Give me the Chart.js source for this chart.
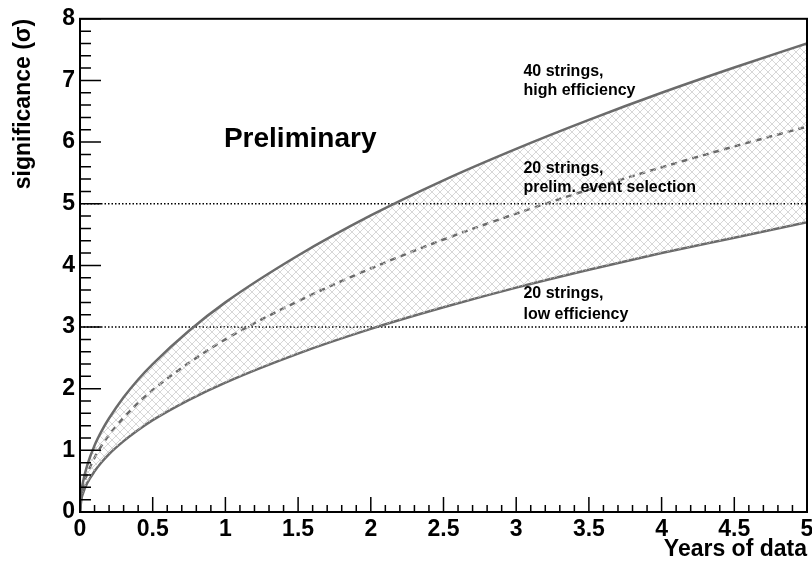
<!DOCTYPE html>
<html>
<head>
<meta charset="utf-8">
<script src="https://cdn.jsdelivr.net/npm/chart.js@4"></script>
<style>
  html, body { margin: 0; padding: 0; background: #fff; }
</style>
</head>
<body>
<canvas id="grafica" width="812" height="563"></canvas>
<script>
// values
const years  = [0, 0.01, 0.02, 0.05, 0.1, 0.15, 0.2, 0.3, 0.4, 0.5, 0.75, 1, 1.5, 2, 2.5, 3, 3.5, 4, 4.5, 5];
const high   = [0, 0.34, 0.48, 0.76, 1.08, 1.32, 1.52, 1.86, 2.15, 2.40, 2.94, 3.40, 4.16, 4.81, 5.38, 5.89, 6.36, 6.80, 7.21, 7.60];
const prelim = [0, 0.28, 0.40, 0.62, 0.88, 1.08, 1.25, 1.53, 1.77, 1.98, 2.42, 2.80, 3.42, 3.95, 4.42, 4.84, 5.23, 5.59, 5.93, 6.25];
const low    = [0, 0.21, 0.30, 0.47, 0.66, 0.81, 0.94, 1.15, 1.33, 1.49, 1.82, 2.10, 2.57, 2.97, 3.32, 3.64, 3.93, 4.20, 4.45, 4.70];
const thresholds = [3, 5];
const xRange = [0, 5];

const notas = [
  { text: 'Preliminary', x: 0.99, y: 6.04, size: 28 },
  { text: '40 strings,', x: 3.05, y: 7.14, size: 16 },
  { text: 'high efficiency', x: 3.05, y: 6.83, size: 16 },
  { text: '20 strings,', x: 3.05, y: 5.57, size: 16 },
  { text: 'prelim. event selection', x: 3.05, y: 5.27, size: 16 },
  { text: '20 strings,', x: 3.05, y: 3.54, size: 16 },
  { text: 'low efficiency', x: 3.05, y: 3.20, size: 16 }
];

const FONT = '"Liberation Sans", Arial, Helvetica, sans-serif';
const GRIS = '#6b6b6b';

function rayado() {
  const c = document.createElement('canvas');
  c.width = 8; c.height = 8;
  const g = c.getContext('2d');
  g.strokeStyle = '#c6c6c6';
  g.lineWidth = 0.7;
  g.beginPath();
  g.moveTo(0, 0); g.lineTo(8, 8);
  g.moveTo(8, 0); g.lineTo(0, 8);
  g.stroke();
  return g.createPattern(c, 'repeat');
}

const pts = arr => years.map((x, i) => ({ x, y: arr[i] }));

const marco = {
  id: 'marco',
  afterDatasetsDraw(chart) {
    const { ctx, chartArea: a, scales: { x, y } } = chart;
    ctx.save();
    ctx.strokeStyle = '#000';
    ctx.lineWidth = 1.5;
    ctx.beginPath();
    for (let i = 0; i <= 50; i++) {
      const px = x.getPixelForValue(i / 10);
      const len = i % 5 === 0 ? 15 : 7;
      ctx.moveTo(px, a.bottom); ctx.lineTo(px, a.bottom - len);
    }
    for (let i = 0; i <= 40; i++) {
      const py = y.getPixelForValue(i / 5);
      const len = i % 5 === 0 ? 21 : 11;
      ctx.moveTo(a.left, py); ctx.lineTo(a.left + len, py);
    }
    ctx.stroke();
    ctx.lineWidth = 2;
    ctx.strokeRect(a.left, a.top, a.right - a.left, a.bottom - a.top);

    ctx.fillStyle = '#000';
    ctx.textBaseline = 'middle';
    ctx.textAlign = 'left';
    notas.forEach(n => {
      ctx.font = `bold ${n.size}px ${FONT}`;
      ctx.fillText(n.text, x.getPixelForValue(n.x), y.getPixelForValue(n.y));
    });
    ctx.restore();
  }
};

const linea = (data, extra) => Object.assign({
  data,
  borderColor: GRIS,
  borderWidth: 2.5,
  pointRadius: 0,
  cubicInterpolationMode: 'monotone',
  fill: false
}, extra);

const chart = new Chart(document.getElementById('grafica').getContext('2d'), {
  type: 'line',
  data: {
    datasets: [
      linea(pts(high), { fill: '+2', backgroundColor: rayado() }),
      linea(pts(prelim), { borderDash: [6, 5] }),
      linea(pts(low)),
      ...thresholds.map(t => ({
        data: xRange.map(x => ({ x, y: t })),
        borderColor: '#000',
        borderWidth: 1.5,
        borderDash: [1.5, 2],
        pointRadius: 0,
        fill: false
      }))
    ]
  },
  options: {
    responsive: false,
    animation: false,
    devicePixelRatio: 1,
    layout: { padding: { top: 17, right: 5, left: 0, bottom: 0 } },
    plugins: { legend: { display: false }, tooltip: { enabled: false } },
    scales: {
      x: {
        type: 'linear',
        min: 0, max: 5,
        grid: { display: false, drawTicks: false },
        border: { display: true, color: '#000', width: 2 },
        ticks: {
          stepSize: 0.5,
          padding: 4,
          color: '#000',
          font: { family: FONT, size: 23, weight: 'bold' },
          callback: v => String(v)
        },
        title: {
          display: true, text: 'Years of data', align: 'end', color: '#000',
          padding: { top: 0, bottom: 0 },
          font: { family: FONT, size: 23, weight: 'bold' }
        },
        afterFit: s => { s.height = 51; s.paddingRight = 0; s.paddingLeft = 0; }
      },
      y: {
        min: 0, max: 8,
        grid: { display: false, drawTicks: false },
        border: { display: true, color: '#000', width: 2 },
        ticks: {
          stepSize: 1,
          padding: 5,
          color: '#000',
          font: { family: FONT, size: 23, weight: 'bold' }
        },
        title: {
          display: true, text: 'significance (σ)', align: 'end', color: '#000',
          padding: { top: 10, bottom: 0 },
          font: { family: FONT, size: 23, weight: 'bold' }
        },
        afterFit: s => { s.width = 80; }
      }
    }
  },
  plugins: [marco]
});
</script>
</body>
</html>
